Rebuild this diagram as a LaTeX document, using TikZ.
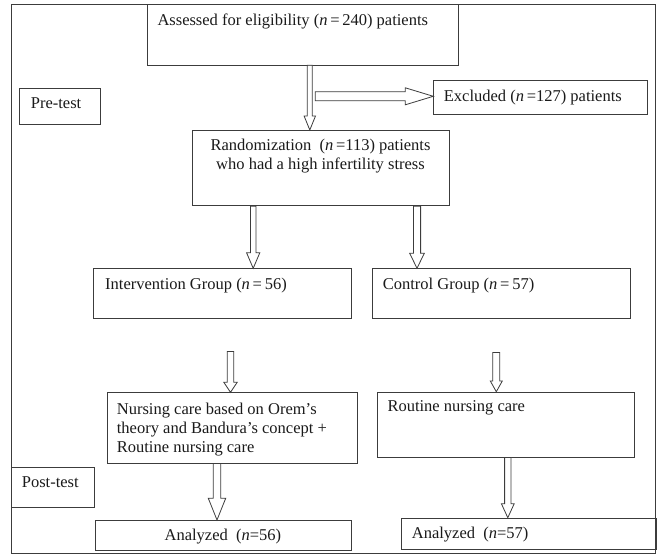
\documentclass[tikz,border=0pt]{standalone}
\usepackage{fontspec}
\setmainfont{Liberation Serif}
\usepackage{tikz}
\usetikzlibrary{calc}
\definecolor{fcline}{HTML}{3C3C3C}
\definecolor{fctext}{HTML}{1A1A1A}
\tikzset{
  box/.style={rectangle, draw=fcline, line width=0.8pt, anchor=north west, inner sep=0pt},
  lbl/.style={inner sep=0pt, text=fctext, font=\fontsize{16.5}{19}\selectfont},
  frm/.style={draw=fcline, line width=0.8pt},
  fat/.style n args={3}{draw=fcline, line width=0.8pt, fill=white,
    to path={let \p1=(\tikztostart), \p2=(\tikztotarget),
      \p3=($(\p2)!#3!(\p1)$) in
      ($(\p1)!#1!-90:(\p2)$) -- ($(\p3)!#1!90:(\p1)$) -- ($(\p3)!#2!90:(\p1)$)
      -- (\p2) -- ($(\p3)!#2!-90:(\p1)$) -- ($(\p3)!#1!-90:(\p1)$)
      -- ($(\p1)!#1!90:(\p2)$) -- cycle}},
}
\begin{document}
\begin{tikzpicture}[x=1pt,y=-1pt]
\useasboundingbox (0,0) rectangle (657,555);
\draw[frm] (11,4.3) rectangle (655.5,553);

% boxes
\node[box, minimum width=311pt, minimum height=60.2pt] (assess) at (146.7,4.3) {};
\node[box, minimum width=81pt, minimum height=36.3pt] (pre) at (19.3,87.7) {};
\node[box, minimum width=213.4pt, minimum height=34pt] (excl) at (433.3,80.3) {};
\node[box, minimum width=257.6pt, minimum height=75.3pt] (rand) at (191.7,130) {};
\node[box, minimum width=257.7pt, minimum height=49.7pt] (interv) at (93.3,268.3) {};
\node[box, minimum width=257.4pt, minimum height=49.7pt] (ctrl) at (372.3,268.3) {};
\node[box, minimum width=250.6pt, minimum height=70.4pt] (nurs) at (106.7,392.3) {};
\node[box, minimum width=257.3pt, minimum height=65pt] (rout) at (376.7,391.7) {};
\node[box, minimum width=83pt, minimum height=40.3pt] (post) at (11,466.7) {};
\node[box, minimum width=255.7pt, minimum height=30pt] (an56) at (95,520) {};
\node[box, minimum width=254.5pt, minimum height=31pt] (an57) at (401,517.7) {};

% texts
\node[lbl, anchor=base west] (assessT) at (157.3,25) {Assessed for eligibility (\textit{n}\,=\,240) patients};
\node[lbl, anchor=base west] (preT) at (30.7,108.3) {Pre-test};
\node[lbl, anchor=base west] (exclT) at (443.7,101.7) {Excluded (\textit{n}\,=127) patients};
\node[lbl, anchor=north, align=center] (randT) at (320.5,139.2)
   {Randomization\ \ (\textit{n}\,=113) patients\\who had a high infertility stress};
\node[lbl, anchor=base west] (intervT) at (105,289.3) {Intervention Group (\textit{n}\,=\,56)};
\node[lbl, anchor=base west] (ctrlT) at (382.7,289.3) {Control Group (\textit{n}\,=\,57)};
\node[lbl, anchor=north west, align=left] (nursT) at (116.7,402.8)
   {Nursing care based on Orem's\\theory and Bandura's concept +\\Routine nursing care};
\node[lbl, anchor=base west] (routT) at (387.3,411.7) {Routine nursing care};
\node[lbl, anchor=base west] (postT) at (21.7,487.7) {Post-test};
\node[lbl, anchor=base] (an56T) at (222.9,540) {Analyzed\ \ (\textit{n}=56)};
\node[lbl, anchor=base west] (an57T) at (411.7,538.3) {Analyzed\ \ (\textit{n}=57)};

% assessed -> randomization, side branch -> excluded
\coordinate (a1) at ($(assess.south west)+(163.1,0)$);
\draw[fat={2.5pt}{5.7pt}{14pt}] (a1) to (a1 |- rand.north);
\coordinate (split) at ($(a1)+(5.5,31)$);
\draw[fat={4.5pt}{8.5pt}{28pt}] (split) to (split -| excl.west);

% randomization -> groups
\coordinate (a3) at ($(rand.south west)+(61.5,0)$);
\draw[fat={2.8pt}{6.6pt}{15.5pt}] (a3) to (a3 |- interv.north);
\coordinate (a4) at ($(rand.south west)+(225.3,0)$);
\draw[fat={3.6pt}{7.3pt}{15pt}] (a4) to (a4 |- ctrl.north);

% groups -> care
\coordinate (a5) at ($(interv.south west)+(137.2,32.7)$);
\draw[fat={3.3pt}{6.7pt}{10pt}] (a5) to (a5 |- nurs.north);
\coordinate (a6) at ($(ctrl.south west)+(124,33.7)$);
\draw[fat={3.5pt}{6pt}{10.7pt}] (a6) to (a6 |- rout.north);

% care -> analyzed
\coordinate (a7) at ($(nurs.south west)+(110.3,0)$);
\draw[fat={3.7pt}{8.7pt}{21.7pt}] (a7) to (a7 |- an56.north);
\coordinate (a8) at ($(rout.south west)+(131.1,0)$);
\draw[fat={3.2pt}{6.4pt}{14pt}] (a8) to (a8 |- an57.north);
\end{tikzpicture}
\end{document}
